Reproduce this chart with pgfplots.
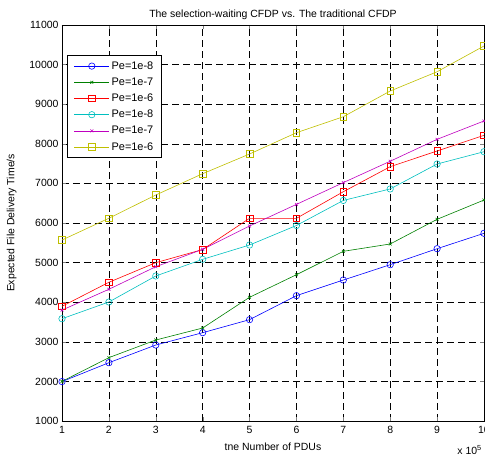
\documentclass[border=0pt]{standalone}
\usepackage{fontspec}
\setmainfont{Liberation Sans}
\usepackage{pgfplots}
\pgfplotsset{compat=1.18}
\definecolor{mblue}{rgb}{0,0,1}
\definecolor{mgreen}{rgb}{0,0.5,0}
\definecolor{mred}{rgb}{1,0,0}
\definecolor{mcyan}{rgb}{0,0.75,0.75}
\definecolor{mmag}{rgb}{0.75,0,0.75}
\definecolor{mylw}{rgb}{0.75,0.75,0}
\begin{document}
\begin{tikzpicture}
\begin{axis}[
  scale only axis,
  width=422bp, height=396bp,
  xmin=1, xmax=10, ymin=1000, ymax=11000,
  xtick={1,...,10},
  ytick={1000,2000,...,11000},
  scaled y ticks=false,
  tick align=inside,
  major tick length=4bp,
  axis line style={line width=0.8pt},
  grid=major,
  major grid style={black, dash pattern=on 7bp off 4bp, line width=0.5pt},
  /pgf/number format/assume math mode=true,
  /pgf/number format/1000 sep={},
  font=\fontsize{10.5}{12}\selectfont,
  ticklabel style={font=\fontsize{10.5}{12}\selectfont},
  xticklabel style={yshift=-2bp},
  title={The selection-waiting CFDP vs. The traditional CFDP},
  title style={yshift=-4bp},
  xlabel={tne Number of PDUs},
  ylabel={Expected File Delivery Time/s},
  xlabel style={yshift=-2bp},
  ylabel style={yshift=6bp},
  legend style={at={(0.012,0.924)}, anchor=north west, draw=black,
    line width=0.9pt, font=\fontsize{11}{13}\selectfont,
    row sep=3.1bp, inner xsep=6.5bp, inner ysep=4bp},
  legend cell align=left,
  legend image code/.code={\draw[line width=0.6pt,#1] (0bp,0bp) -- (17.5bp,0bp) plot coordinates {(17.5bp,0bp)} -- (35bp,0bp);},
  every axis plot/.append style={line width=0.6pt, mark options={solid, line width=0.6pt}},
]
\coordinate (bl) at (rel axis cs:0,0);
\coordinate (tr) at (rel axis cs:1,1);
\addplot[mblue, mark=o, mark size=3.2bp] coordinates {
 (1,1995) (2,2472) (3,2919) (4,3230) (5,3559) (6,4165) (7,4560) (8,4947) (9,5351) (10,5740)};
\addplot[mgreen, mark=x, mark size=2bp] coordinates {
 (1,2000) (2,2600) (3,3045) (4,3348) (5,4124) (6,4694) (7,5285) (8,5470) (9,6093) (10,6580)};
\addplot[mred, mark=square, mark size=3.3bp] coordinates {
 (1,3896) (2,4503) (3,4998) (4,5330) (5,6118) (6,6118) (7,6790) (8,7422) (9,7818) (10,8214)};
\addplot[mcyan, mark=o, mark size=3.2bp] coordinates {
 (1,3583) (2,4005) (3,4662) (4,5083) (5,5444) (6,5937) (7,6570) (8,6860) (9,7490) (10,7800)};
\addplot[mmag, mark=x, mark size=2bp] coordinates {
 (1,3800) (2,4326) (3,4896) (4,5335) (5,5924) (6,6470) (7,7020) (8,7560) (9,8113) (10,8576)};
\addplot[mylw, mark=square, mark size=3.3bp] coordinates {
 (1,5570) (2,6120) (3,6707) (4,7245) (5,7742) (6,8280) (7,8684) (8,9333) (9,9820) (10,10470)};
\legend{Pe=1e-8,Pe=1e-7,Pe=1e-6,Pe=1e-8,Pe=1e-7,Pe=1e-6}
\end{axis}
\node[anchor=north east, font=\fontsize{10.5}{12}\selectfont, inner sep=0pt] at ([xshift=-2bp,yshift=-24bp]bl -| tr) {x 10\textsuperscript{5}};
\pgfresetboundingbox
\path ([xshift=-62bp,yshift=-37bp]bl) rectangle ([xshift=1bp,yshift=25bp]tr);
\end{tikzpicture}
\end{document}
